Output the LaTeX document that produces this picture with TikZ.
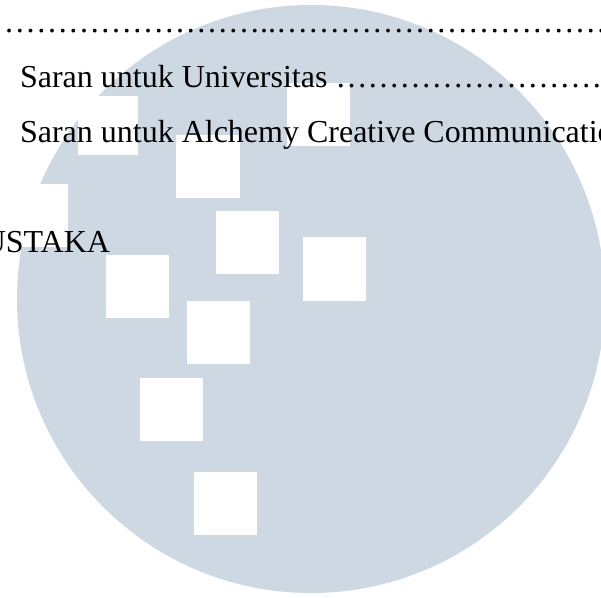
\documentclass[tikz,border=0pt]{standalone}
\usepackage{fontspec}
\setmainfont{Liberation Serif}
\definecolor{wm}{HTML}{CDD8E3}
\tikzset{
  x=1pt,y=-1pt,
  line/.style={anchor=base west,inner sep=0pt,outer sep=0pt,text=black,font=\fontsize{32}{36}\selectfont},
  lineend/.style={line,anchor=base east},
  hole/.style={fill=white,draw=none},
}
\begin{document}
\begin{tikzpicture}
\useasboundingbox (0,0) rectangle (601,597);
\clip (0,0) rectangle (601,597);
\fill[wm] (311,299) circle [radius=294pt];
\fill[hole] (0,184) rectangle (68,247);
\fill[hole] (78,96) rectangle (137.5,155);
\fill[hole] (287,83) rectangle (350,146);
\fill[hole] (176,135) rectangle (240,198);
\fill[hole] (216,211) rectangle (279,274);
\fill[hole] (106,255) rectangle (169,317.5);
\fill[hole] (303,237) rectangle (366,301);
\fill[hole] (187,301) rectangle (250,364);
\fill[hole] (140,378) rectangle (203,441);
\fill[hole] (194,472) rectangle (257,535);
\node[line] (dots) at (4,32) {……………………..…………………………………};
\node[line] (univ) at (20,87) {Saran untuk Universitas …………………………};
\node[line] (alch) at (20,142) {Saran untuk Alchemy Creative Communication};
\node[lineend] (pust) at (110,252) {USTAKA};
\end{tikzpicture}
\end{document}
